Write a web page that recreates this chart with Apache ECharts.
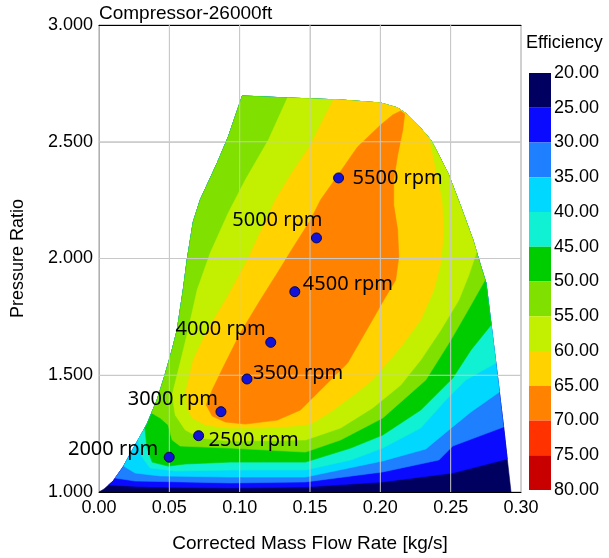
<!DOCTYPE html>
<html><head><meta charset="utf-8">
<script src="https://cdn.jsdelivr.net/npm/echarts@6/dist/echarts.min.js"></script>
<style>html,body{margin:0;padding:0;background:#fff}#c{width:609px;height:558px}</style>
</head><body><div id="c"></div>
<script>
// Efficiency levels and colour scale
const levels = [20,25,30,35,40,45,50,55,60,65,70,75,80];
const levelColors = ['#000060','#0a0aff','#1e80ff','#00d8ff','#10f0d2','#00cd00','#80e100','#c3f000','#ffd200','#ff8200','#ff3200','#c80000'];

// Grid tick values
const xTicks = [0.05,0.10,0.15,0.20,0.25];
const yTicks = [1.5,2.0,2.5];

// Map envelope [mass flow kg/s, pressure ratio]: surge line up, top, choke line down
const envelope = [[0,1.0],[0.0036,1.013],[0.0100,1.047],[0.0171,1.107],[0.0242,1.184],[0.0342,1.291],[0.0413,1.394],[0.0463,1.488],[0.0520,1.608],[0.0556,1.694],[0.0599,1.865],[0.0627,1.994],[0.0670,2.156],[0.0720,2.251],[0.0841,2.409],[0.0919,2.520],[0.1019,2.696],[0.1361,2.687],[0.1717,2.679],[0.2002,2.666],[0.2123,2.645],[0.2195,2.615],[0.2266,2.572],[0.2359,2.507],[0.2480,2.366],[0.2572,2.221],[0.2658,2.079],[0.2715,1.964],[0.2751,1.895],[0.2786,1.724],[0.2836,1.480],[0.2879,1.266],[0.2929,1.0]];

// Iso-efficiency lines (lower boundary of region >= level)
const c25 = [[0.0068,1.030],[0.0200,1.026],[0.0363,1.021],[0.0933,1.017],[0.1468,1.021],[0.2017,1.043],[0.2515,1.081],[0.2902,1.141]];
const c30 = [[0.0114,1.060],[0.0257,1.047],[0.0933,1.039],[0.1468,1.043],[0.2017,1.086],[0.2416,1.137],[0.2515,1.197],[0.2875,1.278]];
const c35 = [[0.0175,1.111],[0.0257,1.081],[0.0435,1.069],[0.0933,1.064],[0.1468,1.064],[0.2017,1.133],[0.2323,1.184],[0.2487,1.266],[0.2644,1.343],[0.2846,1.428]];
const c40 = [[0.0278,1.223],[0.0306,1.150],[0.0363,1.103],[0.0542,1.090],[0.0933,1.094],[0.1468,1.094],[0.1789,1.137],[0.2017,1.188],[0.2287,1.274],[0.2466,1.394],[0.2608,1.480],[0.2821,1.552]];
const c45 = [[0.0326,1.274],[0.0342,1.188],[0.0378,1.128],[0.0492,1.111],[0.0613,1.120],[0.0933,1.128],[0.1468,1.128],[0.1789,1.188],[0.2017,1.244],[0.2287,1.351],[0.2515,1.488],[0.2644,1.608],[0.2787,1.715]];
const c50 = [[0.0375,1.338],[0.0435,1.317],[0.0492,1.287],[0.0520,1.223],[0.0577,1.197],[0.0933,1.188],[0.1468,1.171],[0.1717,1.223],[0.2017,1.317],[0.2323,1.480],[0.2501,1.651],[0.2644,1.801],[0.2744,1.908]];
const c55 = [[0.1340,2.688],[0.1204,2.507],[0.1040,2.336],[0.0919,2.195],[0.0791,2.024],[0.0698,1.865],[0.0634,1.694],[0.0577,1.552],[0.0520,1.415],[0.0542,1.330],[0.0613,1.266],[0.0720,1.231],[0.0933,1.218],[0.1468,1.223],[0.1717,1.274],[0.1945,1.360],[0.2145,1.458],[0.2287,1.565],[0.2430,1.694],[0.2558,1.822],[0.2629,1.929],[0.2684,2.028]];
const c60 = [[0.1667,2.680],[0.1610,2.615],[0.1504,2.486],[0.1361,2.358],[0.1254,2.251],[0.1147,2.113],[0.1055,1.994],[0.0912,1.835],[0.0770,1.694],[0.0670,1.565],[0.0620,1.437],[0.0627,1.360],[0.0663,1.317],[0.0755,1.287],[0.0919,1.274],[0.1162,1.274],[0.1397,1.283],[0.1504,1.291],[0.1646,1.343],[0.1838,1.428],[0.1945,1.480],[0.2145,1.621],[0.2287,1.737],[0.2380,1.865],[0.2430,1.981],[0.2451,2.122],[0.2437,2.251],[0.2409,2.336],[0.2344,2.517]];
const island65 = [[0.2173,2.619],[0.2145,2.632],[0.2088,2.615],[0.2002,2.572],[0.1838,2.478],[0.1675,2.336],[0.1575,2.251],[0.1504,2.165],[0.1382,2.049],[0.1268,1.938],[0.1147,1.822],[0.1005,1.681],[0.0884,1.535],[0.0805,1.437],[0.0762,1.373],[0.0805,1.325],[0.0898,1.300],[0.1040,1.291],[0.1268,1.308],[0.1432,1.351],[0.1596,1.450],[0.1767,1.552],[0.1931,1.724],[0.2024,1.822],[0.2109,1.908],[0.2131,2.006],[0.2123,2.122],[0.2095,2.229],[0.2095,2.336],[0.2123,2.443],[0.2159,2.550]];

// Operating points
const rpmFlow = [0.0499,0.0708,0.0867,0.1052,0.1221,0.1392,0.1546,0.1703];
const rpmPR = [1.149,1.241,1.344,1.484,1.641,1.858,2.088,2.345];
const rpmNames = ['2000 rpm','2500 rpm','3000 rpm','3500 rpm','4000 rpm','4500 rpm','5000 rpm','5500 rpm'];
const labelAlign = ['right','left','right','left','right','left','right','left'];
const labelOffset = [[-11,-8],[10,5],[-3,-12],[6,-6],[-5,-13],[8,-7],[6,-18],[14,0]];

function norm(p){return [p[0]/0.3,(p[1]-1)/2];}
function segDist(p,a,b){
  const P=norm(p),A=norm(a),B=norm(b);
  const dx=B[0]-A[0],dy=B[1]-A[1];
  let t=((P[0]-A[0])*dx+(P[1]-A[1])*dy)/((dx*dx+dy*dy)||1);
  t=Math.max(0,Math.min(1,t));
  const qx=A[0]+t*dx-P[0],qy=A[1]+t*dy-P[1];
  return qx*qx+qy*qy;
}
function nearestSeg(p){
  let best=0,bd=Infinity;
  for(let k=0;k<envelope.length-1;k++){const d=segDist(p,envelope[k],envelope[k+1]);if(d<bd){bd=d;best=k;}}
  return best;
}
function regionAbove(line){
  const i=nearestSeg(line[0]),j=nearestSeg(line[line.length-1]);
  const pts=line.slice();
  for(let k=j;k>i;k--)pts.push(envelope[k]);
  return pts;
}
const bandPolys=[envelope,regionAbove(c25),regionAbove(c30),regionAbove(c35),regionAbove(c40),regionAbove(c45),regionAbove(c50),regionAbove(c55),regionAbove(c60),island65];

// grid line segments drawn over the fill, in data units
const gridSegs = xTicks.map(x=>[[x,1],[x,3]]).concat(yTicks.map(y=>[[0,y],[0.3,y]]));

const FONT='Liberation Sans';
const gridLineSeries = gridSegs.map(function(s){
  return {type:'line',xAxisIndex:0,yAxisIndex:0,z:3,silent:true,symbol:'none',animation:false,
    data:s,lineStyle:{color:'#c8c8c8',width:1},itemStyle:{color:'#c8c8c8'}};
});

const chart=echarts.init(document.getElementById('c'),null,{renderer:'canvas'});
chart.setOption({
  animation:false,
  backgroundColor:'#fff',
  title:[
    {text:'Compressor-26000ft',left:99,top:4,padding:0,textStyle:{fontSize:19,fontWeight:'normal',color:'#000',fontFamily:FONT}},
    {text:'Efficiency',left:526,top:34,padding:0,textStyle:{fontSize:18,fontWeight:'normal',color:'#000',fontFamily:FONT}}
  ],
  grid:[
    {left:99,right:88,top:25,bottom:66,show:true,borderColor:'#a0a0a0',borderWidth:1},
    {left:529,width:22,top:73,height:417,show:false}
  ],
  xAxis:[
    {type:'value',gridIndex:0,min:0,max:0.3,interval:0.05,
     name:'Corrected Mass Flow Rate [kg/s]',nameLocation:'middle',nameGap:42,
     nameTextStyle:{fontSize:19,color:'#000',fontFamily:FONT},
     axisLine:{show:true,onZero:false,lineStyle:{color:'#000',width:1}},axisTick:{show:false},
     axisLabel:{fontSize:18,color:'#000',fontFamily:FONT,margin:7,formatter:v=>v.toFixed(2)},
     splitLine:{show:true,lineStyle:{color:'#cfcfcf',width:1}}},
    {type:'value',gridIndex:0,position:'top',min:0,max:0.3,
     axisLine:{show:true,onZero:false,lineStyle:{color:'#000',width:1}},axisTick:{show:false},axisLabel:{show:false},splitLine:{show:false}},
    {type:'value',gridIndex:1,min:0,max:1,show:false}
  ],
  yAxis:[
    {type:'value',gridIndex:0,min:1,max:3,interval:0.5,
     name:'Pressure Ratio',nameLocation:'middle',nameGap:72,
     nameTextStyle:{fontSize:18,color:'#000',fontFamily:FONT},
     axisLine:{show:true,onZero:false,lineStyle:{color:'#b0b0b0'}},axisTick:{show:false},
     axisLabel:{fontSize:18,color:'#000',fontFamily:FONT,margin:6,formatter:v=>v.toFixed(3)},
     splitLine:{show:true,lineStyle:{color:'#cfcfcf',width:1}}},
    {type:'value',gridIndex:1,min:20,max:80,interval:5,inverse:true,position:'right',
     axisLine:{show:false},axisTick:{show:false},splitLine:{show:false},
     axisLabel:{fontSize:18,color:'#000',fontFamily:FONT,margin:3,showMinLabel:true,showMaxLabel:true,formatter:v=>v.toFixed(2)}}
  ],
  series:[
    {type:'custom',xAxisIndex:0,yAxisIndex:0,clip:true,z:1,silent:true,
     data:bandPolys.map((p,i)=>[i]),
     encode:{x:-1,y:-1},
     renderItem:function(params,api){
       const i=params.dataIndex;
       const pts=bandPolys[i].map(p=>api.coord(p));
       return {type:'polygon',shape:{points:pts},style:{fill:levelColors[i],stroke:levelColors[i],lineWidth:0.6}};
     }},
    {type:'custom',xAxisIndex:2,yAxisIndex:1,z:1,silent:true,
     data:levelColors.map((c,i)=>[i]),
     encode:{x:-1,y:-1},
     renderItem:function(params,api){
       const i=params.dataIndex;
       const a=api.coord([0,levels[i]]),b=api.coord([1,levels[i+1]]);
       return {type:'rect',shape:{x:a[0],y:Math.min(a[1],b[1]),width:b[0]-a[0],height:Math.abs(b[1]-a[1])},style:{fill:levelColors[i]}};
     }}
  ].concat(gridLineSeries).concat([
    {type:'scatter',xAxisIndex:0,yAxisIndex:0,z:5,symbol:'circle',symbolSize:10,
     itemStyle:{color:'#1212d8',borderColor:'#08084a',borderWidth:1,opacity:1},
     data:rpmFlow.map((x,i)=>({value:[x,rpmPR[i]],name:rpmNames[i],
       label:{show:true,position:'inside',align:labelAlign[i],verticalAlign:'middle',offset:labelOffset[i],
         formatter:rpmNames[i],fontSize:20,color:'#000',textBorderWidth:0,textBorderColor:'transparent',fontFamily:'Noto Sans'}}))}
  ])
});
</script></body></html>
